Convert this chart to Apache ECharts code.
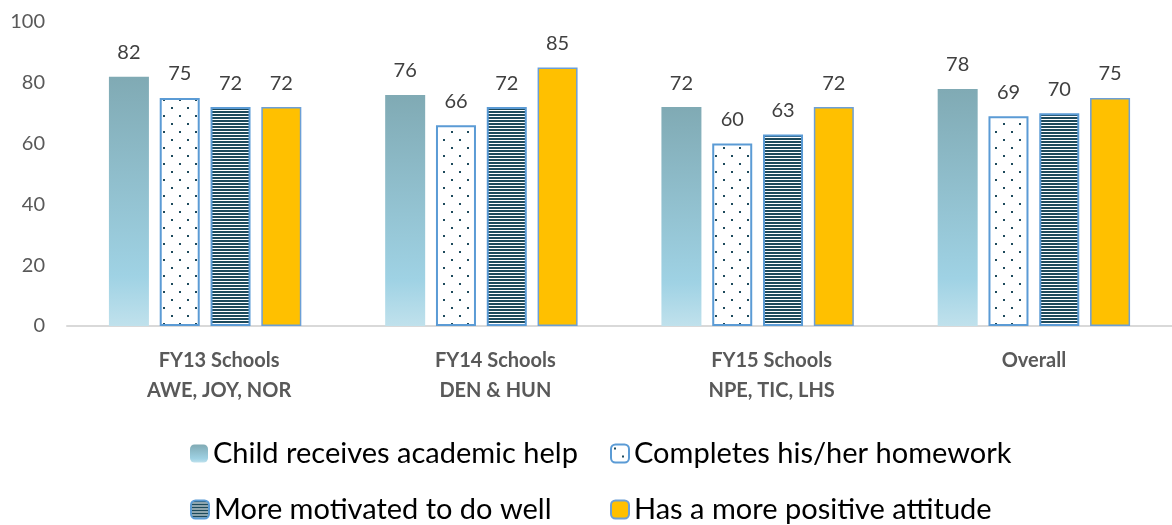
<!DOCTYPE html>
<html>
<head>
<meta charset="utf-8">
<script src="https://cdn.jsdelivr.net/npm/echarts@6/dist/echarts.min.js"></script>
<style>
  html, body { margin: 0; padding: 0; background: #fff; }
  #main { width: 1172px; height: 525px; }
</style>
</head>
<body>
<div id="main"></div>
<script>
var categories = ['FY13 Schools\nAWE, JOY, NOR', 'FY14 Schools\nDEN & HUN', 'FY15 Schools\nNPE, TIC, LHS', 'Overall'];
var seriesNames = ['Child receives academic help', 'Completes his/her homework', 'More motivated to do well', 'Has a more positive attitude'];
var academicHelp = [82, 76, 72, 78];
var homework = [75, 66, 60, 69];
var motivated = [72, 72, 63, 70];
var attitude = [72, 85, 72, 75];

var FONT = 'Lato, "Liberation Sans", sans-serif';

// dotted fill
function dotPattern() {
    var c = document.createElement('canvas');
    c.width = 16; c.height = 16;
    var ctx = c.getContext('2d');
    ctx.fillStyle = '#ffffff';
    ctx.fillRect(0, 0, 16, 16);
    ctx.fillStyle = '#1d4a5c';
    ctx.fillRect(3, 3, 2, 2);
    ctx.fillRect(11, 11, 2, 2);
    return c;
}
// horizontal stripes
function stripePattern() {
    var c = document.createElement('canvas');
    c.width = 4; c.height = 3;
    var ctx = c.getContext('2d');
    ctx.fillStyle = '#ffffff';
    ctx.fillRect(0, 0, 4, 3);
    ctx.fillStyle = '#1d4a5c';
    ctx.fillRect(0, 0, 4, 2);
    return c;
}

var gradient = new echarts.graphic.LinearGradient(0, 0, 0, 1, [
    { offset: 0, color: '#80aab4' },
    { offset: 0.8, color: '#9fd2e4' },
    { offset: 1, color: '#c0e1ec' }
]);

var labelStyle = {
    show: true,
    position: 'top',
    distance: 14,
    color: '#404040',
    fontSize: 20,
    fontFamily: FONT
};

// one legend per item so the 2x2 grid lines up like the original
function legendItem(name, left, top) {
    return {
        data: [name],
        left: left,
        top: top,
        itemWidth: 18,
        itemHeight: 18,
        textStyle: { fontSize: 29, color: '#000', fontFamily: FONT }
    };
}

// Excel nudged the multi-line labels to the right a bit
var xLabels = categories.map(function (c, i) {
    return i < 3 ? { value: c, textStyle: { padding: [0, 0, 0, 28] } } : c;
});

var charts = echarts.init(document.getElementById('main'));
var option = {
    animation: false,
    // original is cropped on the right, plot runs past the edge
    grid: { left: 67, right: -8, top: 22, bottom: 199 },
    legend: [
        legendItem(seriesNames[0], 185, 434),
        legendItem(seriesNames[1], 605, 434),
        legendItem(seriesNames[2], 185, 490),
        legendItem(seriesNames[3], 605, 490)
    ],
    xAxis: {
        type: 'category',
        data: xLabels,
        axisLine: { lineStyle: { color: '#d9d9d9', width: 2 } },
        axisTick: { show: false },
        axisLabel: {
            color: '#595959',
            fontSize: 20,
            fontWeight: 'bold',
            fontFamily: FONT,
            lineHeight: 30,
            margin: 20
        }
    },
    yAxis: {
        type: 'value',
        min: 0,
        max: 100,
        interval: 20,
        splitLine: { show: false },
        axisLine: { show: false },
        axisTick: { show: false },
        axisLabel: { color: '#595959', fontSize: 20, fontFamily: FONT, margin: 22 }
    },
    series: [{
        name: seriesNames[0],
        type: 'bar',
        data: academicHelp,
        barWidth: 40,
        barGap: '27%',
        itemStyle: { color: gradient },
        label: labelStyle
    }, {
        name: seriesNames[1],
        type: 'bar',
        data: homework,
        barWidth: 40,
        barGap: '27%',
        itemStyle: { color: { image: dotPattern(), repeat: 'repeat' }, borderColor: '#5b9bd5', borderWidth: 2 },
        label: labelStyle
    }, {
        name: seriesNames[2],
        type: 'bar',
        data: motivated,
        barWidth: 40,
        barGap: '27%',
        itemStyle: { color: { image: stripePattern(), repeat: 'repeat' }, borderColor: '#5b9bd5', borderWidth: 2 },
        label: labelStyle
    }, {
        name: seriesNames[3],
        type: 'bar',
        data: attitude,
        barWidth: 40,
        barGap: '27%',
        itemStyle: { color: '#ffc000', borderColor: '#6c9fd6', borderWidth: 1.5 },
        label: labelStyle
    }]
};
charts.clear();
charts.setOption(option);
</script>
</body>
</html>
